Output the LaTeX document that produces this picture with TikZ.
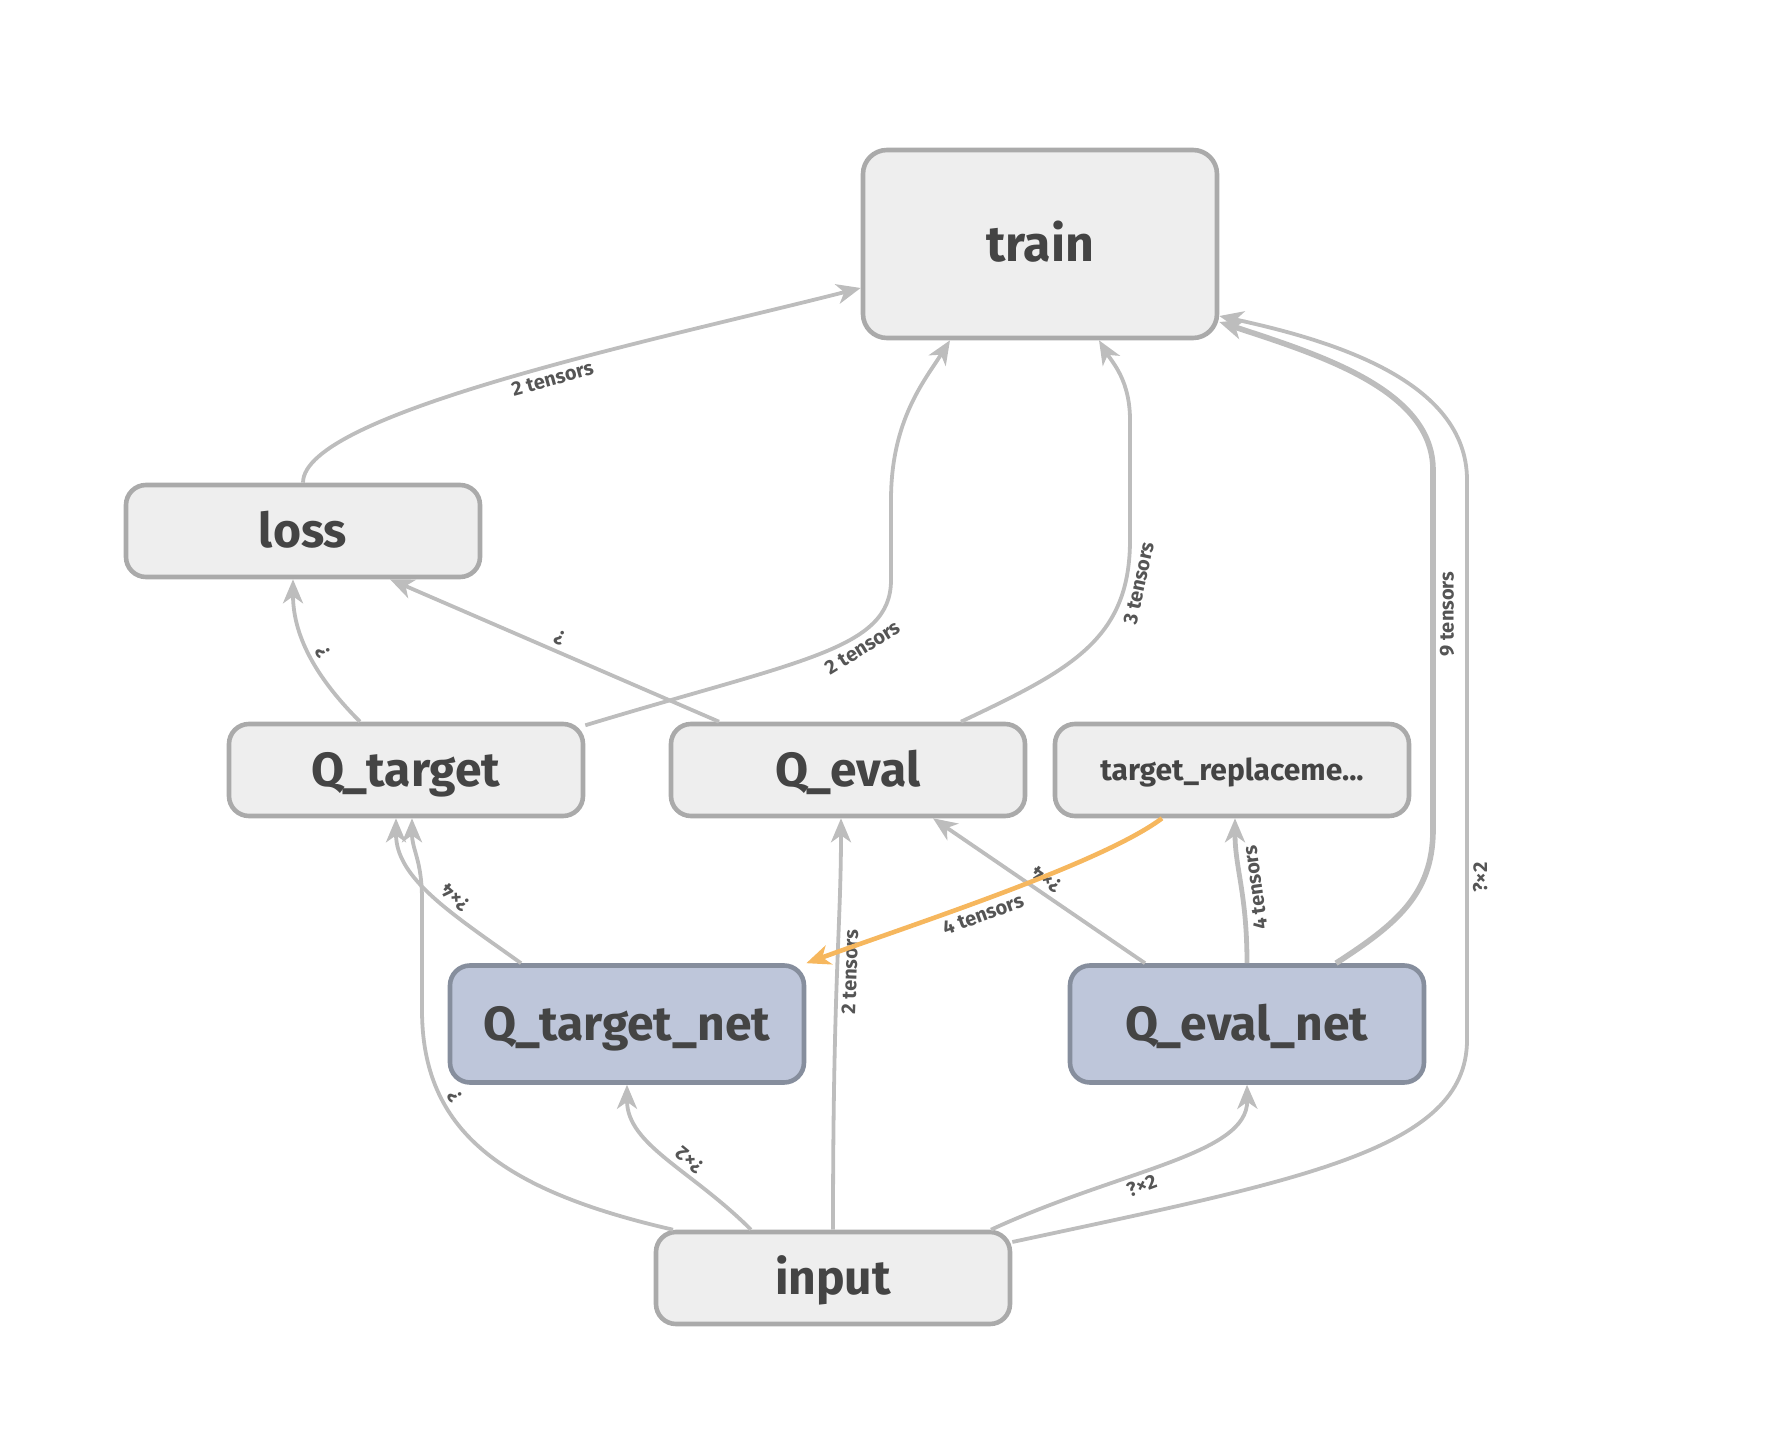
\documentclass[tikz,border=0pt]{standalone}
\usepackage{fontspec}
\setmainfont{Fira Sans}
\usetikzlibrary{arrows.meta}
\definecolor{opfill}{HTML}{EEEEEE}
\definecolor{opline}{HTML}{AAAAAA}
\definecolor{netfill}{HTML}{BEC6DA}
\definecolor{netline}{HTML}{868E9D}
\definecolor{edgegray}{HTML}{BDBDBD}
\definecolor{ctrlorange}{HTML}{F6B75E}
\definecolor{ink}{HTML}{444444}
\definecolor{tagink}{HTML}{555555}
\begin{document}
\begin{tikzpicture}
[ x=0.5pt, y=-0.5pt, line join=round
, op/.style={rectangle, rounded corners=10pt, draw=opline, fill=opfill, line width=2.3pt, minimum width=177pt, minimum height=46pt, inner sep=0pt, text=ink, text height=16.5pt, text depth=0pt, font=\fontsize{24}{24}\selectfont\bfseries}
, net/.style={op, draw=netline, fill=netfill, minimum height=58.5pt}
, dataflow/.style={draw=edgegray, line width=1.9pt, -{Stealth[length=12pt,width=10pt,inset=3.5pt]}}
, heavyflow/.style={dataflow, line width=2.8pt}
, ctrlflow/.style={dataflow, draw=ctrlorange, line width=2.3pt}
, tag/.style={font=\fontsize{10}{10}\selectfont\bfseries, text=tagink, inner sep=2pt}
, upside/.style={sloped, allow upside down}
]
\useasboundingbox (0,0) rectangle (1790,1454);
% Ops:
\node (train) [op, minimum height=94pt, rounded corners=12pt, text height=17.5pt, font=\fontsize{25}{25}\selectfont\bfseries] at (1040,244) {train};
\node (loss) [op] at (303,531) {loss};
\node (qtarget) [op] at (406,770) {Q\_target};
\node (qeval) [op] at (848,770) {Q\_eval};
\node (replace) [op, text height=10.5pt, font=\fontsize{15}{15}\selectfont\bfseries] at (1232,770) {target\_replaceme...};
\node (qtnet) [net] at (627,1024) {Q\_target\_net};
\node (qenet) [net] at (1247,1024) {Q\_eval\_net};
\node (input) [op] at (833,1278) {input};
% Into train:
\draw [dataflow] (loss.north) .. controls +(0,-70) and +(-200,51) .. ([yshift=-22pt]train.west)
  node [tag, pos=0.56, sloped, below] {2 tensors};
\draw [dataflow] (qtarget.14) .. controls (800,660) and (891,650) .. (891,580)
  node [tag, pos=0.65, sloped, below] {2 tensors}
  -- (891,500) .. controls (891,420) and (925,380) .. ([xshift=-45pt]train.south);
\draw [dataflow] ([xshift=56.5pt]qeval.north) .. controls (1070,670) and (1130,640) .. (1130,540)
  node [tag, pos=0.85, sloped, below] {3 tensors}
  -- (1130,420) .. controls (1130,380) and (1112,362) .. ([xshift=29.5pt]train.south);
\draw [heavyflow] ([xshift=44.5pt]qenet.north) .. controls (1395,925) and (1433,895) .. (1433,830)
  -- (1433,470) node [tag, pos=0.6, sloped, below] {9 tensors}
  .. controls (1433,390) and (1320,355) .. ([yshift=-39pt]train.east);
\draw [dataflow] ([yshift=18pt]input.east) .. controls (1300,1180) and (1467,1150) .. (1467,1040)
  -- (1467,480) node [tag, pos=0.29, sloped, below] {?×2}
  .. controls (1467,380) and (1330,340) .. ([yshift=-36pt]train.east);
% Into loss:
\draw [dataflow] ([xshift=-23pt]qtarget.north) .. controls +(-40,-40) and +(0,60) .. ([xshift=-5pt]loss.south)
  node [tag, pos=0.5, upside, below] {?};
\draw [dataflow] ([xshift=-64.5pt]qeval.north) -- ([xshift=43.5pt]loss.south)
  node [tag, pos=0.5, upside, below] {?};
% Into Q_target and Q_eval:
\draw [dataflow] ([xshift=-80pt]input.north) .. controls (500,1190) and (422,1130) .. (422,1010)
  node [tag, pos=0.7, upside, below] {?}
  -- (422,900) .. controls (422,860) and (412,850) .. ([xshift=3pt]qtarget.south);
\draw [dataflow] ([xshift=-53pt]qtnet.north) .. controls +(-70,-50) and +(0,60) .. ([xshift=-5pt]qtarget.south)
  node [tag, pos=0.4, upside, below] {?×4};
\draw [dataflow] (input.north) .. controls +(0,-250) and +(0,110) .. ([xshift=-3.5pt]qeval.south)
  node [tag, pos=0.5, upside, below] {2 tensors};
\draw [dataflow] ([xshift=-51pt]qenet.north) -- ([xshift=42.5pt]qeval.south)
  node [tag, pos=0.5, upside, below] {?×4};
\draw [heavyflow, line width=2.4pt] (qenet.north) .. controls +(0,-70) and +(0,50) .. ([xshift=1.5pt]replace.south)
  node [tag, pos=0.45, upside, below] {4 tensors};
% Into the nets:
\draw [ctrlflow] ([xshift=-35pt]replace.south) .. controls +(-60,45) and +(110,-40) .. (qtnet.north east)
  node [tag, pos=0.56, sloped, below] {4 tensors};
\draw [dataflow] ([xshift=-41pt]input.north) .. controls +(-60,-60) and +(0,60) .. (qtnet.south)
  node [tag, pos=0.4, upside, below] {?×2};
\draw [dataflow] ([xshift=79pt]input.north) .. controls (1120,1170) and (1248,1155) .. (qenet.south)
  node [tag, pos=0.4, sloped, below] {?×2};
\end{tikzpicture}
\end{document}
